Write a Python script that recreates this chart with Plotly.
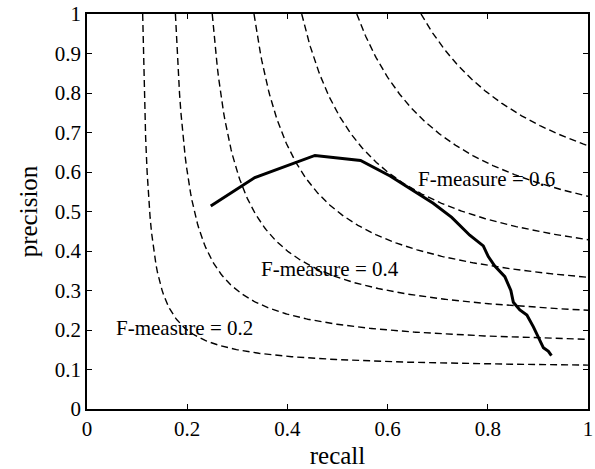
import numpy as np
import plotly.graph_objects as go

# Iso-F levels drawn as dashed curves
f_levels = [0.2, 0.3, 0.4, 0.5, 0.6, 0.7, 0.8]

# Precision-recall curve
recall = [0.247, 0.335, 0.455, 0.546, 0.605, 0.651, 0.691, 0.728, 0.764, 0.791,
          0.801, 0.814, 0.834, 0.846, 0.851, 0.864, 0.878, 0.891, 0.904, 0.911,
          0.921, 0.927]
precision = [0.514, 0.586, 0.642, 0.629, 0.590, 0.554, 0.521, 0.485, 0.440, 0.413,
             0.386, 0.362, 0.335, 0.300, 0.270, 0.251, 0.238, 0.208, 0.175, 0.155,
             0.146, 0.135]

# Annotation labels
label_texts = ["F-measure = 0.6", "F-measure = 0.4", "F-measure = 0.2"]
label_x = [0.797, 0.485, 0.195]
label_y = [0.582, 0.354, 0.205]

tick_vals_x = [0, 0.2, 0.4, 0.6, 0.8, 1]
tick_text_x = ["0", "0.2", "0.4", "0.6", "0.8", "1"]
tick_vals_y = [0, 0.1, 0.2, 0.3, 0.4, 0.5, 0.6, 0.7, 0.8, 0.9, 1]
tick_text_y = ["0", "0.1", "0.2", "0.3", "0.4", "0.5", "0.6", "0.7", "0.8", "0.9", "1"]

FONT = "Liberation Serif"

fig = go.Figure()

for F in f_levels:
    r0 = F / (2 - F)  # recall where precision reaches 1
    r = np.linspace(r0, 1, 300)
    p = F * r / (2 * r - F)
    fig.add_trace(go.Scatter(x=r, y=p, mode="lines",
                             line=dict(color="black", width=1.4, dash="7px,4px"),
                             hoverinfo="skip", showlegend=False))

fig.add_trace(go.Scatter(x=recall, y=precision, mode="lines",
                         line=dict(color="black", width=3),
                         showlegend=False))

for t, x, y in zip(label_texts, label_x, label_y):
    fig.add_annotation(x=x, y=y, text=t, showarrow=False,
                       font=dict(family=FONT, size=21, color="black"))

axis_common = dict(
    range=[0, 1], showgrid=False, zeroline=False,
    showline=True, linecolor="black", linewidth=1.5, mirror="ticks",
    ticks="inside", ticklen=5, tickcolor="black", tickwidth=1,
    tickfont=dict(family=FONT, size=21, color="black"),
    ticklabeloverflow="allow",
)

fig.update_xaxes(**axis_common, tickvals=tick_vals_x, ticktext=tick_text_x,
                 title=dict(text="recall", font=dict(family=FONT, size=25, color="black"),
                            standoff=7))
fig.update_yaxes(**axis_common, tickvals=tick_vals_y, ticktext=tick_text_y,
                 title=dict(text="precision", font=dict(family=FONT, size=25, color="black"),
                            standoff=10))

fig.update_layout(
    width=595, height=469,
    margin=dict(l=87, r=7, t=14, b=60, autoexpand=False),
    plot_bgcolor="white", paper_bgcolor="white",
)

# Remove the page's default body margin so the figure fills the window
fig.write_html("out.html",
               config={"displayModeBar": False},
               post_script="document.body.style.margin='0px';"
                           "document.body.style.overflow='hidden';")
